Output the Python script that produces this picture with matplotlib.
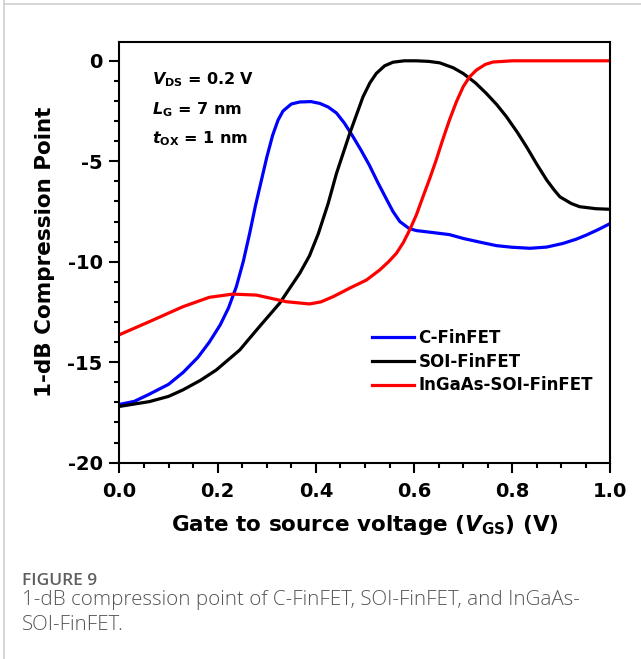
import matplotlib.pyplot as plt
from matplotlib.ticker import MultipleLocator
from matplotlib.lines import Line2D

plt.rcParams['font.family'] = ['DejaVu Sans']
plt.rcParams['font.weight'] = 'bold'
plt.rcParams['axes.unicode_minus'] = False
plt.rcParams['mathtext.fontset'] = 'custom'
plt.rcParams['mathtext.rm'] = 'DejaVu Sans:bold'
plt.rcParams['mathtext.it'] = 'DejaVu Sans:italic:bold'
plt.rcParams['mathtext.bf'] = 'DejaVu Sans:bold'

# C-FinFET
x_c = [0.0, 0.03, 0.06, 0.10, 0.13, 0.16, 0.183, 0.205, 0.222, 0.238, 0.252, 0.265, 0.277,
       0.289, 0.30, 0.312, 0.323, 0.333, 0.35, 0.367, 0.39, 0.408, 0.425, 0.442, 0.458,
       0.475, 0.492, 0.509, 0.526, 0.543, 0.557, 0.571, 0.59, 0.605, 0.639, 0.672, 0.70,
       0.735, 0.768, 0.80, 0.836, 0.87, 0.903, 0.93, 0.951, 0.975, 1.0]
y_c = [-17.1, -16.95, -16.6, -16.1, -15.5, -14.75, -14.0, -13.15, -12.3, -11.24, -10.0, -8.6, -7.2,
       -5.95, -4.8, -3.7, -2.95, -2.5, -2.15, -2.05, -2.03, -2.12, -2.3, -2.6, -3.1,
       -3.75, -4.45, -5.2, -6.05, -6.85, -7.5, -8.0, -8.35, -8.45, -8.55, -8.65, -8.84,
       -9.03, -9.2, -9.28, -9.33, -9.27, -9.09, -8.88, -8.67, -8.4, -8.09]

# SOI-FinFET
x_soi = [0.0, 0.061, 0.10, 0.129, 0.165, 0.197, 0.245, 0.285, 0.326, 0.367, 0.387, 0.405,
         0.425, 0.442, 0.469, 0.496, 0.51, 0.523, 0.54, 0.557, 0.58, 0.605, 0.63, 0.652, 0.68,
         0.70, 0.725, 0.747, 0.768, 0.788, 0.81, 0.829, 0.85, 0.87, 0.885, 0.897, 0.92, 0.937,
         0.97, 1.0]
y_soi = [-17.2, -16.96, -16.7, -16.38, -15.9, -15.39, -14.39, -13.23, -12.07, -10.58, -9.7, -8.6,
         -7.1, -5.6, -3.61, -1.79, -1.1, -0.63, -0.25, -0.07, 0.0, 0.0, -0.03, -0.1, -0.35,
         -0.63, -1.1, -1.62, -2.17, -2.78, -3.55, -4.28, -5.15, -5.93, -6.42, -6.77, -7.1, -7.26,
         -7.36, -7.39]

# InGaAs-SOI-FinFET
x_in = [0.0, 0.061, 0.129, 0.183, 0.231, 0.279, 0.34, 0.387, 0.41, 0.435, 0.47,
        0.503, 0.53, 0.548, 0.564, 0.578, 0.591, 0.605, 0.618, 0.632, 0.645, 0.658, 0.672,
        0.686, 0.70, 0.713, 0.727, 0.745, 0.761, 0.80, 1.0]
y_in = [-13.63, -12.98, -12.24, -11.77, -11.61, -11.66, -11.99, -12.1, -12.0, -11.74, -11.3,
        -10.91, -10.41, -10.0, -9.58, -9.05, -8.42, -7.65, -6.77, -5.85, -4.94, -3.95, -2.95,
        -2.05, -1.29, -0.8, -0.46, -0.18, -0.06, 0.0, 0.0]

labels = ['C-FinFET', 'SOI-FinFET', 'InGaAs-SOI-FinFET']
colors = ['#0000ff', '#000000', '#ff0000']

fig = plt.figure(figsize=(6.41, 6.59), dpi=100)
ax = fig.add_axes([0.1864, 0.2979, 0.766, 0.6388])

lw = 2.3
ax.plot(x_c, y_c, color=colors[0], lw=lw, label=labels[0])
ax.plot(x_soi, y_soi, color=colors[1], lw=lw, label=labels[1])
ax.plot(x_in, y_in, color=colors[2], lw=lw, label=labels[2])

ax.set_xlim(0, 1.0)
ax.set_ylim(-20, 0.95)
ax.xaxis.set_minor_locator(MultipleLocator(0.05))
ax.yaxis.set_minor_locator(MultipleLocator(1))
ax.set_xticks([0.0, 0.2, 0.4, 0.6, 0.8, 1.0])
ax.set_xticklabels(['0.0', '0.2', '0.4', '0.6', '0.8', '1.0'])
ax.set_yticks([-20, -15, -10, -5, 0])
ax.set_yticklabels(['-20', '-15', '-10', '-5', '0'])

for s in ax.spines.values():
    s.set_linewidth(1.5)
ax.tick_params(which='major', direction='out', length=7.2, width=1.5, labelsize=14, pad=5)
ax.tick_params(axis='x', which='major', pad=6.5)
ax.tick_params(which='minor', direction='out', length=3.8, width=1.5)

ax.set_xlabel(r'Gate to source voltage ($V_{\mathrm{GS}}$) (V)', fontsize=15.5,
              fontweight='bold', labelpad=9)
ax.set_ylabel('1-dB Compression Point', fontsize=15.5, fontweight='bold', labelpad=9)

ax.text(0.066, 0.8995, r'$V_{\mathrm{DS}}$ = 0.2 V', transform=ax.transAxes,
        fontsize=11.5, fontweight='bold', va='baseline')
ax.text(0.066, 0.8283, r'$L_{\mathrm{G}}$ = 7 nm', transform=ax.transAxes,
        fontsize=11.5, fontweight='bold', va='baseline')
ax.text(0.066, 0.7587, r'$t_{\mathrm{OX}}$ = 1 nm', transform=ax.transAxes,
        fontsize=11.5, fontweight='bold', va='baseline')

ax.legend(loc='center left', bbox_to_anchor=(0.514, 0.24), frameon=False,
          handlelength=2.5, handletextpad=0.3, labelspacing=0.35,
          borderpad=0, borderaxespad=0, prop={'weight': 'bold', 'size': 12})

# page border and caption
fig.add_artist(Line2D([4 / 641, 4 / 641], [0, 1], color='#d0d0d0', lw=1.2))
fig.add_artist(Line2D([4 / 641, 1], [1 - 4 / 659, 1 - 4 / 659], color='#d0d0d0', lw=1.2))
fig.text(22 / 641, 1 - 585 / 659, 'FIGURE 9', family='Open Sans', fontweight='semibold',
         fontsize=12.5, color='#5f5f5f', va='baseline')
fig.text(22 / 641, 1 - 605 / 659, '1-dB compression point of C-FinFET, SOI-FinFET, and InGaAs-',
         family='Open Sans', fontweight='light', fontsize=14.8, color='#555555', va='baseline')
fig.text(22 / 641, 1 - 630 / 659, 'SOI-FinFET.', family='Open Sans', fontweight='light',
         fontsize=14.8, color='#555555', va='baseline')

fig.savefig('out.png', dpi=100)
